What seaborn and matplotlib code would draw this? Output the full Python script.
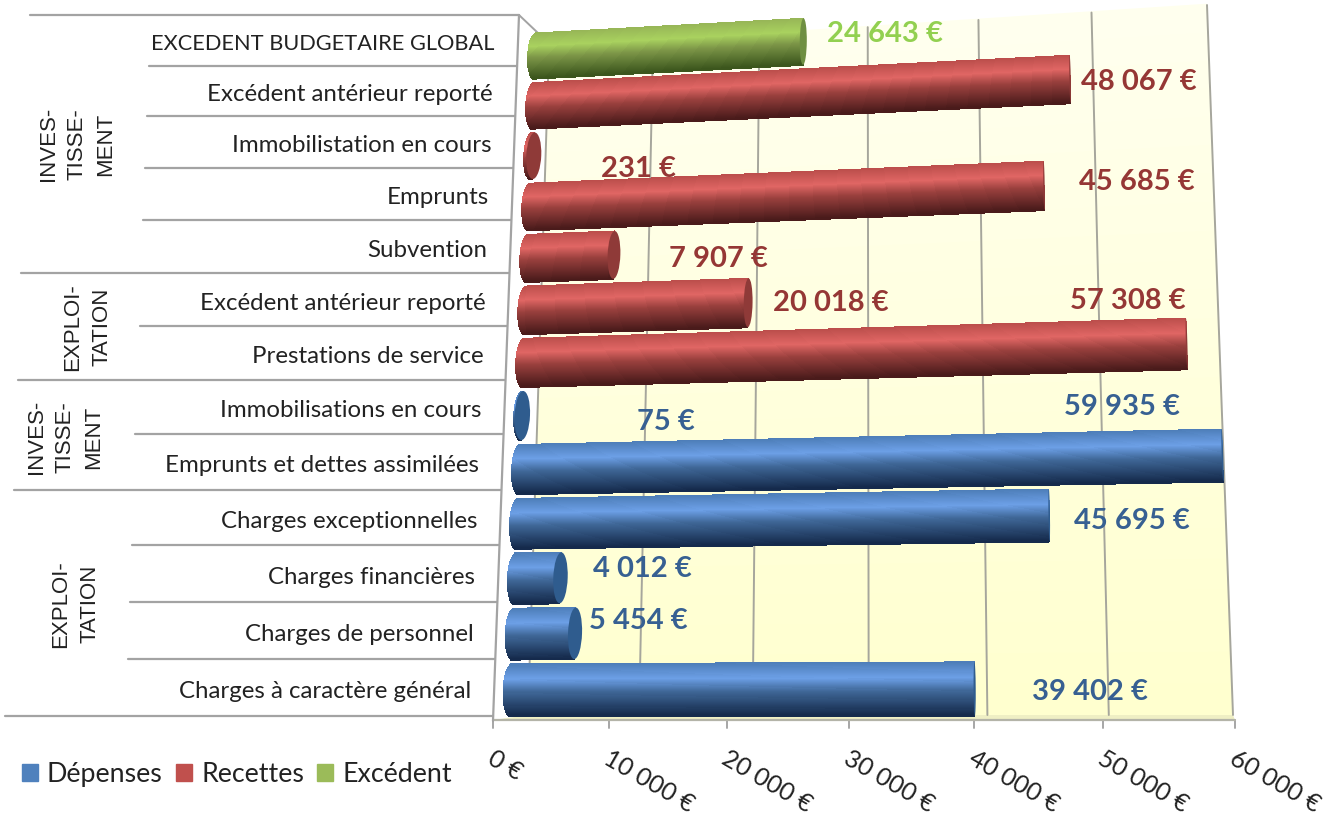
import numpy as np
import pandas as pd
import matplotlib
matplotlib.use("Agg")
import matplotlib.pyplot as plt
import seaborn as sns
from matplotlib.patches import Ellipse, Patch, Rectangle
from matplotlib.transforms import Affine2D, Transform

# Values, top row first
labels = ["EXCEDENT BUDGETAIRE GLOBAL", "Excédent antérieur reporté", "Immobilistation en cours",
          "Emprunts", "Subvention", "Excédent antérieur reporté", "Prestations de service",
          "Immobilisations en cours", "Emprunts et dettes assimilées", "Charges exceptionnelles",
          "Charges financières", "Charges de personnel", "Charges à caractère général"]
values = [24643, 48067, 231, 45685, 7907, 20018, 57308, 75, 59935, 45695, 4012, 5454, 39402]
kinds = ["Excédent"] + ["Recettes"] * 6 + ["Dépenses"] * 6
ticks = [0, 10000, 20000, 30000, 40000, 50000, 60000]
groups = ["INVES-\nTISSE-\nMENT", "EXPLOI-\nTATION", "INVES-\nTISSE-\nMENT", "EXPLOI-\nTATION"]

palette = {"Dépenses": "#4F81BD", "Recettes": "#C0504D", "Excédent": "#9BBB59"}
text_colors = {"Dépenses": "#376092", "Recettes": "#953735", "Excédent": "#92D050"}
cap_colors = {"Dépenses": "#2F5C8E", "Recettes": "#8F3A38", "Excédent": "#6F8F42"}
light_colors = {"Dépenses": "#6C9FE6", "Recettes": "#E06664", "Excédent": "#A9D25F"}
dark_colors = {"Dépenses": "#14294A", "Recettes": "#481A1A", "Excédent": "#3A541C"}

# Layout, in picture pixels
W, H = 1344, 820
row_edges = [16, 67, 117, 169, 221, 274, 327, 381, 435, 491, 546, 603, 660, 717]
edge_starts = [30, 149, 147, 145, 143, 21, 140, 18, 135, 14, 132, 130, 128, 5]
value_pos = [(885, 34), (1139, 82), (638, 169), (1137, 182), (718, 259), (831, 303), (1128, 301),
             (666, 422), (1122, 407), (1132, 521), (642, 569), (638, 621), (1090, 692)]
group_pos = [(77, 144), (87, 327), (65, 437), (75, 604)]


def homography(src, dst):
    a, b = [], []
    for (x, y), (u, v) in zip(src, dst):
        a.append([x, y, 1, 0, 0, 0, -u * x, -u * y])
        a.append([0, 0, 0, x, y, 1, -v * x, -v * y])
        b += [u, v]
    return np.append(np.linalg.solve(np.array(a, float), np.array(b, float)), 1).reshape(3, 3)


class Perspective(Transform):
    input_dims = 2
    output_dims = 2
    is_separable = False
    has_inverse = False

    def __init__(self, src, dst):
        super().__init__()
        self.m = homography(src, dst)

    def transform_non_affine(self, values):
        pts = np.column_stack([values, np.ones(len(values))]) @ self.m.T
        return pts[:, :2] / pts[:, 2:]


to_display = Affine2D().scale(1, -1).translate(0, H)
xmax = ticks[-1]
# planes of the fake 3D chart: bars, back wall, front edge of the floor
bar_t = Perspective([(0, -0.5), (xmax, -0.5), (xmax, 12.5), (0, 12.5)],
                    [(536, 32), (1208, -5), (1232, 719), (510, 719)]) + to_display
wall_t = Perspective([(0, 1), (xmax, 1), (xmax, 0), (0, 0)],
                     [(549, 49), (1207, 6), (1233, 716), (528, 716)]) + to_display
front_t = Perspective([(0, 1), (xmax, 1), (xmax, 0), (0, 0)],
                      [(519, 58), (1207, 6), (1235, 721), (493, 721)]) + to_display

sns.set_theme(style="white")
plt.rcParams["font.family"] = ["Lato", "DejaVu Sans"]

df = pd.DataFrame({"row": range(len(values)), "value": values, "kind": kinds})

fig = plt.figure(figsize=(W / 100, H / 100), dpi=100)
ax = fig.add_axes([0, 0, 1, 1])
sns.barplot(data=df, x="value", y="row", orient="h", hue="kind", palette=palette, dodge=False,
            width=0.92, errorbar=None, legend=False, ax=ax, zorder=5)
bars = list(ax.patches)
ax.set_axis_off()

# Wall with a faint vertical fade
for i in range(24):
    shade = np.array([255, 255, 207]) + (np.array([255, 255, 238]) - np.array([255, 255, 207])) * i / 23
    ax.add_patch(Rectangle((0, i / 24), xmax, 1 / 24 + 0.002, transform=wall_t, fc=shade / 255, ec="none", zorder=1))

# Floor strip between wall and front edge
floor = plt.Polygon([(493, H - 721), (1235, H - 721), (1233, H - 716), (528, H - 716)],
                    transform=None, fc="#EFEFC4", ec="none", zorder=1.5)
ax.add_patch(floor)

for t in ticks:
    ax.plot([t, t], [0, 1], transform=wall_t, color="#A6A69C", lw=1.4, zorder=2, scalex=False, scaley=False)
    x0 = front_t.transform((t, 0))
    ax.plot([x0[0], x0[0]], [x0[1], x0[1] - 8], transform=None, color="#A6A6A6", lw=1.4, zorder=2)
    ax.text(x0[0] - 3, 757, f"{t:,} €".replace(",", " "), transform=to_display, rotation=-30,
            rotation_mode="anchor", ha="left", va="center", fontsize=18, color="#222222")

# Floor front line, left table lines
ax.plot([493, 1235], [H - 721, H - 721], transform=None, color="#B4B4A8", lw=1.6, zorder=2)
for y, xs in zip(row_edges, edge_starts):
    xe = 519 - (y - 16) * 0.037
    ax.plot([xs, xe], [H - y, H - y], transform=None, color="#A3A3A3", lw=1.6, zorder=2)
ax.plot([519, 493], [H - 16, H - 722], transform=None, color="#A3A3A3", lw=1.6, zorder=2)
ax.plot([519, 538], [H - 16, H - 34], transform=None, color="#A3A3A3", lw=1.4, zorder=2)


def shade_stops(kind):
    base = np.array(matplotlib.colors.to_rgb(palette[kind]))
    light = np.array(matplotlib.colors.to_rgb(light_colors[kind]))
    dark = np.array(matplotlib.colors.to_rgb(dark_colors[kind]))
    return [0, 0.3, 0.55, 1], [base * 0.97, light, base * 0.8, dark]


for bar in bars:
    row = int(round(bar.get_y() + bar.get_height() / 2))
    v, kind = values[row], kinds[row]
    top, hgt = bar.get_y(), bar.get_height()
    bar.set_transform(bar_t)
    bar.set_linewidth(0)
    fs, cs = shade_stops(kind)
    cs = np.array(cs)
    n = 48
    bulge = 700
    for i in range(n):
        f = (i + 0.5) / n
        col = [np.interp(f, fs, cs[:, c]) for c in range(3)]
        x_left = -bulge * np.sqrt(max(1 - (2 * f - 1) ** 2, 0))
        ax.add_patch(Rectangle((x_left, top + i / n * hgt), v - x_left, hgt / n * 1.6, transform=bar_t,
                               fc=col, ec="none", zorder=6, antialiased=False))
    a = max(60, 700 * (1 - v / 45000))
    ax.add_patch(Ellipse((v, top + hgt / 2), 2 * a, hgt, transform=bar_t, fc=cap_colors[kind], ec="none", zorder=7))

# Category labels
for i, lab in enumerate(labels):
    y = (row_edges[i] + row_edges[i + 1]) / 2 + 3
    ax.text(495 - (y - 41) * 0.0365, y, lab, transform=to_display, ha="right", va="center",
            fontsize=15.7 if lab.isupper() else 17.3, color="#222222")

for (x, y), g in zip(group_pos, groups):
    ax.text(x, y, g, transform=to_display, rotation=90, ha="center", va="center", ma="center",
            fontsize=16, color="#222222", linespacing=1.5, family="Liberation Sans")

# Value labels
for (x, y), v, kind in zip(value_pos, values, kinds):
    ax.text(x, y, f"{v:,} €".replace(",", " "), transform=to_display, ha="center", va="center",
            fontsize=21, fontweight="bold", color=text_colors[kind], zorder=8)

handles = [Patch(color=palette[k], label=k) for k in ["Dépenses", "Recettes", "Excédent"]]
ax.legend(handles=handles, ncol=3, frameon=False, loc="center left", bbox_to_anchor=(22 / W, 1 - 775 / H),
          bbox_transform=fig.transFigure, fontsize=19.3, handlelength=0.6, handleheight=0.6,
          handletextpad=0.33, columnspacing=0.5, borderpad=0, borderaxespad=0, labelcolor="#222222")

fig.savefig("out.png", dpi=100)
